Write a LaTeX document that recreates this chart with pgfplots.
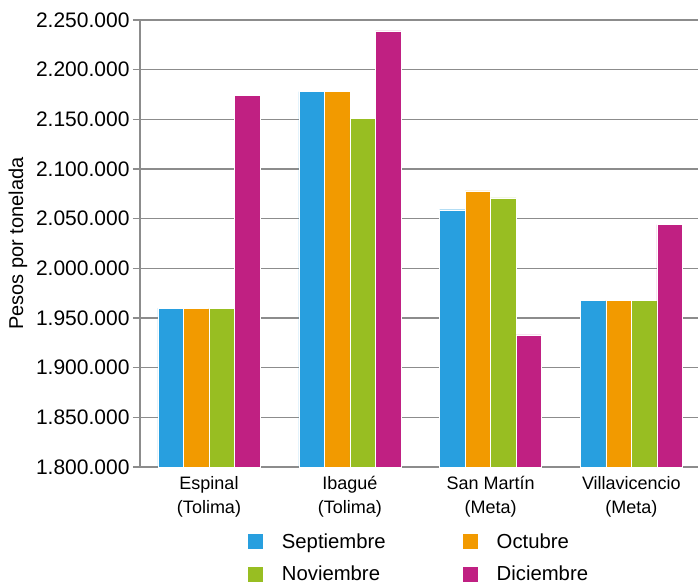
\documentclass[border=0pt]{standalone}
\usepackage{pgfplots}
\pgfplotsset{compat=1.18}
\usepackage{fontspec}
\setmainfont{Liberation Sans}
\definecolor{cSep}{HTML}{289FDF}
\definecolor{cOct}{HTML}{F29A00}
\definecolor{cNov}{HTML}{98BE22}
\definecolor{cDic}{HTML}{C02082}
\definecolor{gridc}{HTML}{8C8C8C}
\begin{document}
\begin{tikzpicture}
\path[use as bounding box] (-140pt,-119pt) rectangle (558pt,467pt);
\begin{axis}[
  at={(0pt,0pt)}, anchor=south west,
  scale only axis, width=558pt, height=447pt,
  xmin=-0.49, xmax=3.473,
  ymin=1800000, ymax=2250000,
  ybar=0pt, bar width=25.5pt,
  axis lines=left, axis line style={-, gridc, line width=1.3pt},
  ymajorgrids, grid style={gridc, line width=1.3pt},
  ytick={1800000,1850000,1900000,1950000,2000000,2050000,2100000,2150000,2200000,2250000},
  yticklabels={1.800.000,1.850.000,1.900.000,1.950.000,2.000.000,2.050.000,2.100.000,2.150.000,2.200.000,2.250.000},
  scaled y ticks=false,
  ytick style={gridc, line width=1.3pt},
  tick align=outside, major tick length=7pt,
  xtick={0,1,2,3},
  xtick style={draw=none},
  xticklabels={{Espinal\\(Tolima)},{Ibagué\\(Tolima)},{San Martín\\(Meta)},{Villavicencio\\(Meta)}},
  xticklabel style={align=center, font=\fontsize{18}{24}\selectfont, yshift=1.5pt},
  yticklabel style={font=\fontsize{21}{21}\selectfont},
  ylabel={Pesos por tonelada},
  every axis y label/.style={at={(axis description cs:-0.2186,0.5)}, rotate=90, anchor=center, font=\fontsize{20}{20}\selectfont},
  legend columns=2,
  legend style={at={(axis description cs:0.5,-0.140)}, anchor=north, draw=none, fill=none,
    font=\fontsize{20.3}{20.3}\selectfont, row sep=12pt,
    /tikz/every odd column/.append style={column sep=17pt},
    /tikz/every even column/.append style={column sep=75pt}},
  legend cell align=left,
  legend image code/.code={\fill[#1, draw=none] (0pt,-7.5pt) rectangle (15pt,7.5pt);},
]
\addplot[fill=cSep, draw=white, line width=0.4pt] coordinates {(0,1960000) (1,2178000) (2,2059000) (3,1968000)};
\addplot[fill=cOct, draw=white, line width=0.4pt] coordinates {(0,1960000) (1,2178000) (2,2078000) (3,1968000)};
\addplot[fill=cNov, draw=white, line width=0.4pt] coordinates {(0,1960000) (1,2151000) (2,2071000) (3,1968000)};
\addplot[fill=cDic, draw=white, line width=0.4pt] coordinates {(0,2174000) (1,2239000) (2,1933000) (3,2044000)};
\legend{Septiembre, Octubre, Noviembre, Diciembre}
\end{axis}
\end{tikzpicture}
\end{document}
